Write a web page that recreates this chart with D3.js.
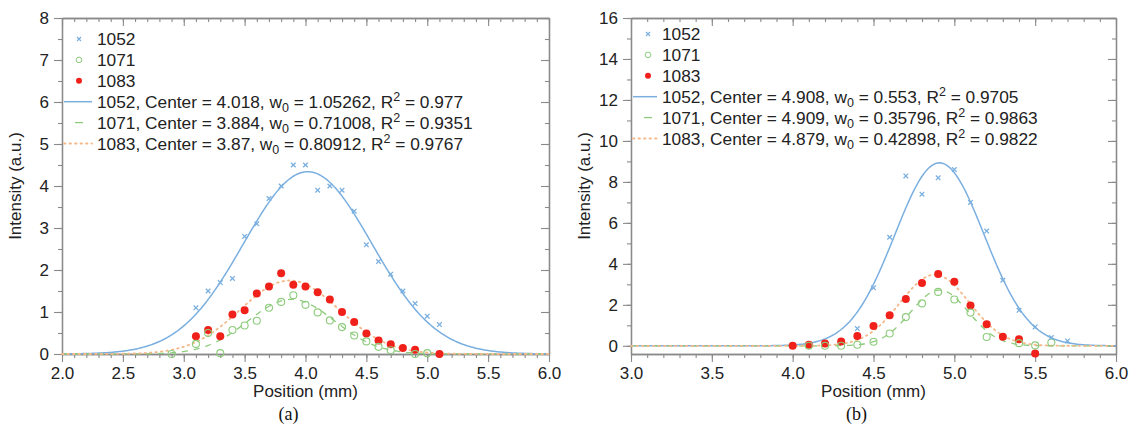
<!DOCTYPE html>
<html lang="en">
<head>
<meta charset="UTF-8" />
<title>Gaussian fits of beam profiles</title>
<script src="https://d3js.org/d3.v7.min.js"></script>
<style>
  body { margin: 0; background: #fff; }
  svg text { font-family: "Liberation Sans", Arial, sans-serif; }
</style>
</head>
<body>
<div id="viz"></div>
<script>
// ---------- panel (a) measured points ----------
const posA1052 = [3.1, 3.2, 3.3, 3.4, 3.5, 3.6, 3.7, 3.8, 3.9, 4.0, 4.1, 4.2, 4.3, 4.4, 4.5, 4.6, 4.7, 4.8, 4.9, 5.0, 5.1];
const valA1052 = [1.1, 1.5, 1.7, 1.8, 2.8, 3.1, 3.7, 4.0, 4.5, 4.5, 3.9, 4.0, 3.9, 3.4, 2.6, 2.2, 1.9, 1.5, 1.2, 0.9, 0.7];
const posA1071 = [2.9, 3.1, 3.2, 3.3, 3.4, 3.5, 3.6, 3.7, 3.8, 3.9, 4.0, 4.1, 4.2, 4.3, 4.4, 4.5, 4.6, 4.7, 4.9, 5.0];
const valA1071 = [0.0, 0.24, 0.5, 0.02, 0.57, 0.68, 0.79, 1.1, 1.24, 1.4, 1.17, 0.99, 0.8, 0.64, 0.44, 0.3, 0.17, 0.09, 0.0, 0.02];
const posA1083 = [3.1, 3.2, 3.3, 3.4, 3.5, 3.6, 3.7, 3.8, 3.9, 4.0, 4.1, 4.2, 4.3, 4.4, 4.5, 4.6, 4.7, 4.8, 4.9, 5.1];
const valA1083 = [0.42, 0.57, 0.42, 0.94, 1.04, 1.44, 1.61, 1.92, 1.65, 1.61, 1.47, 1.3, 1.0, 0.76, 0.49, 0.32, 0.23, 0.14, 0.1, 0.0];

// ---------- panel (b) measured points ----------
const posB1052 = [4.4, 4.5, 4.6, 4.7, 4.8, 4.9, 5.0, 5.1, 5.2, 5.3, 5.4, 5.5, 5.6, 5.7];
const valB1052 = [0.84, 2.83, 5.3, 8.29, 7.4, 8.2, 8.6, 7.0, 5.6, 3.2, 1.73, 0.92, 0.4, 0.24];
const posB1071 = [4.1, 4.2, 4.3, 4.4, 4.5, 4.6, 4.7, 4.8, 4.9, 5.0, 5.1, 5.2, 5.4, 5.5, 5.6];
const valB1071 = [0.0, 0.0, 0.0, 0.05, 0.2, 0.6, 1.4, 2.07, 2.63, 2.26, 1.62, 0.43, 0.13, 0.02, 0.16];
const posB1083 = [4.0, 4.1, 4.2, 4.3, 4.4, 4.5, 4.6, 4.7, 4.8, 4.9, 5.0, 5.1, 5.2, 5.3, 5.4, 5.5];
const valB1083 = [0.0, 0.05, 0.11, 0.21, 0.48, 0.97, 1.49, 2.29, 3.07, 3.5, 3.13, 1.97, 1.05, 0.44, 0.32, -0.37];

// ---------- gaussian fit results (from legend, peak) ----------
const seriesNames = ["1052", "1071", "1083"];
const fitCenterA = [4.018, 3.884, 3.87];
const fitW0A = [1.05262, 0.71008, 0.80912];
const fitPeakA = [4.34, 1.3, 1.75];
const fitR2A = [0.977, 0.9351, 0.9767];
const fitCenterB = [4.908, 4.909, 4.879];
const fitW0B = [0.553, 0.35796, 0.42898];
const fitPeakB = [8.93, 2.72, 3.47];
const fitR2B = [0.9705, 0.9863, 0.9822];

// ---------- tick labels ----------
const xTicksA = [2.0, 2.5, 3.0, 3.5, 4.0, 4.5, 5.0, 5.5, 6.0];
const yTicksA = [0, 1, 2, 3, 4, 5, 6, 7, 8];
const xTicksB = [3.0, 3.5, 4.0, 4.5, 5.0, 5.5, 6.0];
const yTicksB = [0, 2, 4, 6, 8, 10, 12, 14, 16];

const blue = "#7aafdf", green = "#8dcc7c", red = "#f0201a", orange = "#f5b888";
const axisCol = "#8a8a8a", textCol = "#222";

const svg = d3.select("#viz").append("svg")
  .attr("width", 1133).attr("height", 430);

function drawPanel(p) {
  const x = d3.scaleLinear().domain(p.xDomain).range([p.left, p.right]);
  const y = d3.scaleLinear().domain(p.yDomain).range([p.bottom, p.top]);
  const g = svg.append("g");

  // axes: bottom/left outward ticks with labels, top/right inward ticks
  const styleAxis = sel => {
    sel.selectAll("path").attr("stroke", axisCol).attr("stroke-width", 1.3);
    sel.selectAll("line").attr("stroke", axisCol).attr("stroke-width", 1.1);
    sel.selectAll("text").attr("fill", textCol).style("font-size", "17px")
      .style("font-family", "'Liberation Sans', Arial, sans-serif");
  };
  const xMinor = x.ticks(p.xMinorCount), yMinor = y.ticks(p.yMinorCount);

  g.append("g").attr("transform", `translate(0,${p.bottom})`)
    .call(d3.axisBottom(x).tickValues(xMinor).tickSize(4).tickFormat("").tickSizeOuter(0)).call(styleAxis);
  g.append("g").attr("transform", `translate(0,${p.bottom})`)
    .call(d3.axisBottom(x).tickValues(p.xTicks).tickSize(8).tickPadding(5)
      .tickFormat(d3.format(".1f")).tickSizeOuter(0)).call(styleAxis);
  g.append("g").attr("transform", `translate(0,${p.top})`)
    .call(d3.axisTop(x).tickValues(xMinor).tickSize(-4).tickFormat("").tickSizeOuter(0)).call(styleAxis);
  g.append("g").attr("transform", `translate(0,${p.top})`)
    .call(d3.axisTop(x).tickValues(p.xTicks).tickSize(-8).tickFormat("").tickSizeOuter(0)).call(styleAxis);

  g.append("g").attr("transform", `translate(${p.left},0)`)
    .call(d3.axisLeft(y).tickValues(yMinor).tickSize(4).tickFormat("").tickSizeOuter(0)).call(styleAxis);
  g.append("g").attr("transform", `translate(${p.left},0)`)
    .call(d3.axisLeft(y).tickValues(p.yTicks).tickSize(8).tickPadding(5)
      .tickFormat(d3.format("d")).tickSizeOuter(0)).call(styleAxis);
  g.append("g").attr("transform", `translate(${p.right},0)`)
    .call(d3.axisRight(y).tickValues(yMinor).tickSize(-4).tickFormat("").tickSizeOuter(0)).call(styleAxis);
  g.append("g").attr("transform", `translate(${p.right},0)`)
    .call(d3.axisRight(y).tickValues(p.yTicks).tickSize(-8).tickFormat("").tickSizeOuter(0)).call(styleAxis);

  // fitted gaussian curves  I = A exp(-2 (x-c)^2 / w0^2)
  const xs = x.ticks(400);
  const curveStyles = [
    { col: blue, w: 1.5, dash: null },
    { col: green, w: 1.3, dash: "6,6" },
    { col: orange, w: 1.8, dash: "1.5,4" }
  ];
  p.fits.forEach((f, i) => {
    const pts = xs.map(v => [v, f.peak * Math.exp(-2 * (v - f.center) ** 2 / (f.w0 * f.w0))]);
    g.append("path").datum(pts)
      .attr("fill", "none")
      .attr("stroke", curveStyles[i].col)
      .attr("stroke-width", curveStyles[i].w)
      .attr("stroke-dasharray", curveStyles[i].dash)
      .attr("stroke-linecap", i === 2 ? "round" : "butt")
      .attr("d", d3.line().x(d => x(d[0])).y(d => y(d[1])));
  });

  // measured points
  const toPts = (pos, val) => pos.map((v, i) => [v, val[i]]);
  g.append("g").selectAll("circle").data(toPts(p.pos[2], p.val[2])).join("circle")
    .attr("cx", d => x(d[0])).attr("cy", d => y(d[1])).attr("r", 4)
    .attr("fill", red);
  g.append("g").selectAll("circle").data(toPts(p.pos[1], p.val[1])).join("circle")
    .attr("cx", d => x(d[0])).attr("cy", d => y(d[1])).attr("r", 3.5)
    .attr("fill", "none").attr("stroke", green).attr("stroke-width", 1.1);
  g.append("g").selectAll("path").data(toPts(p.pos[0], p.val[0])).join("path")
    .attr("transform", d => `translate(${x(d[0])},${y(d[1])})`)
    .attr("d", "M-2.3,-2.3L2.3,2.3M-2.3,2.3L2.3,-2.3")
    .attr("stroke", blue).attr("stroke-width", 1.3);

  // legend
  const lg = g.append("g");
  const rowY = i => p.legendY + i * 20.9;
  const mx = p.left + 17;
  lg.append("path").attr("transform", `translate(${mx},${rowY(0)})`)
    .attr("d", "M-2,-2L2,2M-2,2L2,-2").attr("stroke", blue).attr("stroke-width", 1.2);
  lg.append("circle").attr("cx", mx).attr("cy", rowY(1)).attr("r", 2.8)
    .attr("fill", "none").attr("stroke", green).attr("stroke-width", 1);
  lg.append("circle").attr("cx", mx).attr("cy", rowY(2)).attr("r", 3).attr("fill", red);
  seriesNames.forEach((s, i) => {
    lg.append("text").attr("x", p.textX).attr("y", rowY(i)).attr("dy", "0.36em")
      .attr("fill", textCol).style("font-size", "17.3px").text(s);
  });
  p.fits.forEach((f, i) => {
    const yy = rowY(3 + i);
    const x1 = i === 1 ? mx - 4 : p.left + 2, x2 = i === 1 ? mx + 4 : p.textX - 5;
    lg.append("line").attr("x1", x1).attr("x2", x2)
      .attr("y1", yy).attr("y2", yy)
      .attr("stroke", curveStyles[i].col).attr("stroke-width", curveStyles[i].w)
      .attr("stroke-dasharray", i === 1 ? null : curveStyles[i].dash)
      .attr("stroke-linecap", i === 2 ? "round" : "butt");
    const t = lg.append("text").attr("x", p.textX).attr("y", yy).attr("dy", "0.36em")
      .attr("fill", textCol).style("font-size", "17.3px");
    t.append("tspan").text(`${seriesNames[i]}, Center = ${f.center}, w`);
    t.append("tspan").attr("dy", 4).style("font-size", "12.5px").text("0");
    t.append("tspan").attr("dy", -4).text(` = ${f.w0}, R`);
    t.append("tspan").attr("dy", -7).style("font-size", "12.5px").text("2");
    t.append("tspan").attr("dy", 7).text(` = ${f.r2}`);
  });

  // titles
  g.append("text").attr("x", (p.left + p.right) / 2).attr("y", 397)
    .attr("text-anchor", "middle").attr("fill", textCol).style("font-size", "17px")
    .text("Position (mm)");
  g.append("text").attr("transform", `translate(${p.left - 41},${(p.top + p.bottom) / 2}) rotate(-90)`)
    .attr("text-anchor", "middle").attr("fill", textCol).style("font-size", "17px")
    .text("Intensity (a.u.)");
  g.append("text").attr("x", (p.left + p.right) / 2 - 17).attr("y", 420)
    .attr("text-anchor", "middle").attr("fill", "#111")
    .style("font-family", "'Liberation Serif', 'Times New Roman', serif").style("font-size", "18px")
    .text(p.tag);
}

const fitsOf = (c, w, a, r) => c.map((v, i) => ({ center: v, w0: w[i], peak: a[i], r2: r[i] }));

drawPanel({
  left: 62, right: 549, top: 18, bottom: 354,
  xDomain: [2, 6], yDomain: [0, 8],
  xTicks: xTicksA, yTicks: yTicksA, xMinorCount: 40, yMinorCount: 16,
  pos: [posA1052, posA1071, posA1083], val: [valA1052, valA1071, valA1083],
  fits: fitsOf(fitCenterA, fitW0A, fitPeakA, fitR2A),
  legendY: 39, textX: 97, tag: "(a)"
});

drawPanel({
  left: 631, right: 1116, top: 18, bottom: 354,
  xDomain: [3, 6], yDomain: [-0.4, 16],
  xTicks: xTicksB, yTicks: yTicksB, xMinorCount: 30, yMinorCount: 16,
  pos: [posB1052, posB1071, posB1083], val: [valB1052, valB1071, valB1083],
  fits: fitsOf(fitCenterB, fitW0B, fitPeakB, fitR2B),
  legendY: 34, textX: 662, tag: "(b)"
});
</script>
</body>
</html>
